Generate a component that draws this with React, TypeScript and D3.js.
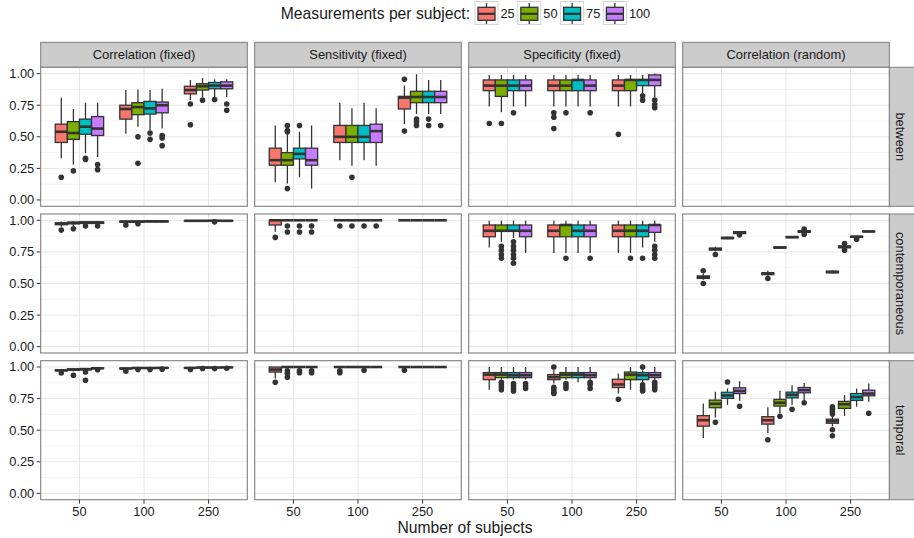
import React from "react";
import { scaleLinear, scalePoint, scaleBand, format } from "d3";

// box rows: [lower whisker, q1, median, q3, upper whisker, outliers]
type Box = [number, number, number, number, number, number[]];

const subjects = ["50", "100", "250"];
const measurements = ["25", "50", "75", "100"];
const colors = ["#F8766D", "#7CAE00", "#00BFC4", "#C77CFF"];
const metrics = ["Correlation (fixed)", "Sensitivity (fixed)", "Specificity (fixed)", "Correlation (random)"];
const relations = ["between", "contemporaneous", "temporal"];
const yTicks = [0, 0.25, 0.5, 0.75, 1];
const yMinor = [0.125, 0.375, 0.625, 0.875];

// ordered: subjects 50 (25,50,75,100), 100 (...), 250 (...)
const corFixedBetween: Box[] = [
  [0.33, 0.455, 0.54, 0.6, 0.81, [0.18]],
  [0.28, 0.48, 0.53, 0.62, 0.72, [0.23]],
  [0.37, 0.52, 0.58, 0.64, 0.77, [0.33, 0.32]],
  [0.34, 0.51, 0.565, 0.66, 0.77, [0.28, 0.24]],
  [0.525, 0.64, 0.72, 0.75, 0.87, []],
  [0.58, 0.675, 0.735, 0.77, 0.875, [0.5, 0.29]],
  [0.55, 0.68, 0.725, 0.78, 0.87, [0.53, 0.48]],
  [0.565, 0.69, 0.75, 0.775, 0.88, [0.51, 0.49, 0.43]],
  [0.79, 0.84, 0.87, 0.9, 0.95, [0.76, 0.595]],
  [0.815, 0.87, 0.9, 0.92, 0.965, [0.79]],
  [0.815, 0.88, 0.905, 0.93, 0.955, [0.795]],
  [0.815, 0.88, 0.905, 0.935, 0.955, [0.76, 0.71]],
];

const sensFixedBetween: Box[] = [
  [0.14, 0.275, 0.315, 0.41, 0.59, []],
  [0.13, 0.275, 0.315, 0.375, 0.53, [0.59, 0.55, 0.54, 0.09]],
  [0.18, 0.325, 0.365, 0.41, 0.54, [0.59]],
  [0.09, 0.275, 0.315, 0.41, 0.59, []],
  [0.315, 0.455, 0.5, 0.59, 0.77, []],
  [0.27, 0.455, 0.5, 0.59, 0.725, [0.18]],
  [0.315, 0.455, 0.5, 0.59, 0.77, []],
  [0.27, 0.455, 0.545, 0.6, 0.725, []],
  [0.6, 0.72, 0.81, 0.82, 0.905, [0.955, 0.545]],
  [0.68, 0.77, 0.815, 0.86, 0.995, [0.64, 0.62, 0.59]],
  [0.68, 0.77, 0.815, 0.86, 0.95, [0.64, 0.59]],
  [0.68, 0.77, 0.815, 0.86, 0.95, [0.59]],
];

const specFixedBetween: Box[] = [
  [0.74, 0.865, 0.905, 0.95, 0.99, [0.605]],
  [0.695, 0.82, 0.905, 0.95, 0.99, [0.605]],
  [0.74, 0.865, 0.905, 0.95, 0.99, [0.69]],
  [0.74, 0.865, 0.905, 0.95, 0.99, []],
  [0.74, 0.865, 0.905, 0.95, 0.99, [0.69, 0.655, 0.565]],
  [0.74, 0.865, 0.905, 0.95, 0.99, [0.69]],
  [0.74, 0.865, 0.95, 0.95, 0.99, []],
  [0.74, 0.865, 0.905, 0.95, 0.99, [0.69]],
  [0.74, 0.865, 0.905, 0.95, 0.99, [0.52]],
  [0.74, 0.865, 0.95, 0.95, 0.99, []],
  [0.845, 0.905, 0.95, 0.95, 0.99, [0.825, 0.79]],
  [0.815, 0.905, 0.95, 0.99, 1.0, [0.79, 0.755, 0.73]],
];

const corFixedContemp: Box[] = [
  [0.95, 0.965, 0.973, 0.98, 0.99, [0.923]],
  [0.955, 0.972, 0.98, 0.985, 0.995, [0.933]],
  [0.965, 0.975, 0.982, 0.988, 0.995, [0.955]],
  [0.965, 0.975, 0.982, 0.988, 0.995, [0.955]],
  [0.975, 0.985, 0.99, 0.993, 0.998, [0.963]],
  [0.98, 0.987, 0.99, 0.994, 0.998, [0.973]],
  [0.982, 0.988, 0.992, 0.995, 0.999, []],
  [0.982, 0.988, 0.992, 0.995, 0.999, []],
  [0.99, 0.994, 0.996, 0.998, 1.0, []],
  [0.99, 0.994, 0.996, 0.998, 1.0, []],
  [0.992, 0.995, 0.997, 0.998, 1.0, [0.988]],
  [0.99, 0.994, 0.996, 0.998, 1.0, []],
];

const sensFixedContemp: Box[] = [
  [0.91, 0.963, 1, 1, 1, [0.865]],
  [1, 1, 1, 1, 1, [0.955, 0.907]],
  [1, 1, 1, 1, 1, [0.955, 0.907]],
  [1, 1, 1, 1, 1, [0.955, 0.907]],
  [1, 1, 1, 1, 1, [0.955]],
  [1, 1, 1, 1, 1, [0.955]],
  [1, 1, 1, 1, 1, [0.955]],
  [1, 1, 1, 1, 1, [0.955]],
  [1, 1, 1, 1, 1, []],
  [1, 1, 1, 1, 1, []],
  [1, 1, 1, 1, 1, []],
  [1, 1, 1, 1, 1, []],
];

const specFixedContemp: Box[] = [
  [0.785, 0.87, 0.917, 0.963, 0.997, []],
  [0.83, 0.917, 0.917, 0.963, 0.997, [0.795, 0.764, 0.73, 0.7]],
  [0.86, 0.917, 0.917, 0.963, 0.997, [0.83, 0.795, 0.764, 0.73, 0.7, 0.66]],
  [0.742, 0.87, 0.917, 0.963, 0.997, []],
  [0.742, 0.87, 0.917, 0.963, 0.997, []],
  [0.742, 0.87, 0.963, 0.963, 0.997, [0.7]],
  [0.742, 0.87, 0.917, 0.963, 0.997, []],
  [0.742, 0.87, 0.917, 0.963, 0.997, [0.7]],
  [0.742, 0.87, 0.917, 0.963, 0.997, []],
  [0.742, 0.87, 0.917, 0.963, 0.997, [0.7]],
  [0.785, 0.87, 0.917, 0.963, 0.997, [0.7]],
  [0.83, 0.905, 0.963, 0.963, 0.997, [0.795, 0.764, 0.73, 0.7]],
];

const corRandomContemp: Box[] = [
  [0.53, 0.54, 0.55, 0.56, 0.575, [0.6, 0.5]],
  [0.755, 0.765, 0.772, 0.78, 0.79, [0.73]],
  [0.85, 0.855, 0.86, 0.865, 0.87, []],
  [0.89, 0.895, 0.903, 0.91, 0.915, [0.885]],
  [0.56, 0.57, 0.578, 0.585, 0.6, [0.54]],
  [0.775, 0.78, 0.785, 0.79, 0.795, []],
  [0.86, 0.863, 0.867, 0.871, 0.875, []],
  [0.9, 0.905, 0.912, 0.918, 0.925, [0.93, 0.89]],
  [0.58, 0.585, 0.591, 0.597, 0.605, []],
  [0.775, 0.783, 0.79, 0.797, 0.805, [0.817, 0.764]],
  [0.862, 0.866, 0.87, 0.874, 0.878, [0.85]],
  [0.905, 0.909, 0.912, 0.915, 0.918, []],
];

const corFixedTemp: Box[] = [
  [0.96, 0.97, 0.974, 0.978, 0.985, [0.953]],
  [0.965, 0.975, 0.98, 0.985, 0.99, [0.935]],
  [0.97, 0.978, 0.983, 0.987, 0.993, [0.96, 0.895]],
  [0.985, 0.988, 0.99, 0.993, 0.997, [0.978]],
  [0.98, 0.985, 0.988, 0.991, 0.995, [0.967]],
  [0.985, 0.99, 0.992, 0.994, 0.997, [0.98]],
  [0.985, 0.99, 0.992, 0.994, 0.997, [0.98]],
  [0.988, 0.991, 0.993, 0.995, 0.998, [0.983]],
  [0.988, 0.991, 0.993, 0.995, 0.998, [0.98]],
  [0.992, 0.994, 0.996, 0.997, 0.999, [0.988]],
  [0.992, 0.994, 0.996, 0.997, 0.999, [0.988]],
  [0.994, 0.996, 0.997, 0.998, 1.0, [0.99]],
];

const sensFixedTemp: Box[] = [
  [0.91, 0.96, 0.98, 1, 1, [0.88]],
  [0.98, 1, 1, 1, 1, [0.97, 0.95, 0.92]],
  [0.985, 1, 1, 1, 1, [0.97, 0.955]],
  [0.985, 1, 1, 1, 1, [0.97, 0.955]],
  [0.985, 1, 1, 1, 1, [0.97, 0.955]],
  [1, 1, 1, 1, 1, []],
  [1, 1, 1, 1, 1, [0.975]],
  [1, 1, 1, 1, 1, []],
  [1, 1, 1, 1, 1, [0.974]],
  [1, 1, 1, 1, 1, []],
  [1, 1, 1, 1, 1, []],
  [1, 1, 1, 1, 1, []],
];

const specFixedTemp: Box[] = [
  [0.82, 0.9, 0.94, 0.956, 1.0, []],
  [0.9, 0.916, 0.94, 0.956, 1.0, [0.88, 0.86, 0.84, 0.82]],
  [0.9, 0.916, 0.935, 0.956, 1.0, [0.87, 0.85, 0.83, 0.81]],
  [0.9, 0.916, 0.935, 0.956, 1.0, [0.87, 0.85, 0.83]],
  [0.87, 0.9, 0.92, 0.94, 0.974, [1.0, 0.84, 0.82, 0.8, 0.79]],
  [0.9, 0.916, 0.94, 0.956, 1.0, [0.87, 0.85, 0.83]],
  [0.88, 0.916, 0.94, 0.956, 1.0, []],
  [0.9, 0.916, 0.935, 0.956, 1.0, [0.88, 0.86, 0.83]],
  [0.79, 0.838, 0.862, 0.903, 0.948, [0.744]],
  [0.82, 0.9, 0.94, 0.96, 1.0, []],
  [0.88, 0.9, 0.935, 0.956, 0.974, [1.0, 0.86, 0.84, 0.82, 0.81]],
  [0.9, 0.916, 0.935, 0.956, 1.0, [0.88, 0.86, 0.84, 0.82]],
];

const corRandomTemp: Box[] = [
  [0.438, 0.532, 0.579, 0.615, 0.712, []],
  [0.6, 0.678, 0.709, 0.738, 0.804, [0.563]],
  [0.7, 0.752, 0.775, 0.8, 0.83, [0.882]],
  [0.733, 0.79, 0.81, 0.835, 0.888, [0.689]],
  [0.477, 0.548, 0.579, 0.607, 0.681, [0.424]],
  [0.634, 0.691, 0.717, 0.744, 0.812, [0.61]],
  [0.7, 0.756, 0.78, 0.801, 0.856, [0.665]],
  [0.738, 0.796, 0.817, 0.838, 0.874, [0.717]],
  [0.529, 0.555, 0.571, 0.587, 0.62, [0.686, 0.665, 0.646, 0.628, 0.503, 0.456]],
  [0.613, 0.673, 0.705, 0.728, 0.778, []],
  [0.686, 0.736, 0.762, 0.79, 0.83, []],
  [0.725, 0.772, 0.79, 0.817, 0.87, [0.634]],
];

const panels: Box[][][] = [
  [corFixedBetween, sensFixedBetween, specFixedBetween, []],
  [corFixedContemp, sensFixedContemp, specFixedContemp, corRandomContemp],
  [corFixedTemp, sensFixedTemp, specFixedTemp, corRandomTemp],
];

const W = 914;
const H = 538;
const left = 40.7;
const panelW = 206.6;
const colGap = 7.4;
const top = 67.3;
const panelH = 139;
const rowGap = 7.7;
const stripH = 25;
const font = "'Liberation Sans', Arial, Helvetica, sans-serif";
const ink = "#333333";

export default function App() {
  const x = scalePoint<string>().domain(subjects).range([0, panelW]).padding(0.6);
  const step = x.step();
  const xInner = scaleBand<string>().domain(measurements).range([-0.375 * step, 0.375 * step]);
  const bw = xInner.bandwidth();
  const y = scaleLinear().domain([-0.05, 1.05]).range([panelH, 0]);
  const fmt = format(".2f");
  const colX = (c: number) => left + c * (panelW + colGap);
  const rowY = (r: number) => top + r * (panelH + rowGap);
  const bottom = rowY(2) + panelH;

  return (
    <svg width={W} height={H} style={{ position: "absolute", left: 0, top: 0, background: "#fff" }} fontFamily={font}>
      <rect width={W} height={H} fill="#fff" />
      {/* legend */}
      <text x={470} y={19} fontSize={15.7} textAnchor="end" fill="#1a1a1a">Measurements per subject:</text>
      {measurements.map((m, i) => {
        const kx = 475 + i * 42.8;
        return (
          <g key={m}>
            <rect x={kx} y={1.5} width={23} height={23} fill="#fff" stroke="#d4d4d4" strokeWidth={1} />
            <line x1={kx + 11.5} x2={kx + 11.5} y1={3} y2={24} stroke={ink} strokeWidth={1.3} />
            <rect x={kx + 3} y={7.3} width={17} height={13} fill={colors[i]} stroke={ink} strokeWidth={1.3} />
            <line x1={kx + 3} x2={kx + 20} y1={13.8} y2={13.8} stroke={ink} strokeWidth={2.2} />
            <text x={kx + 25.5} y={18.3} fontSize={12.8} fill="#1a1a1a">{m}</text>
          </g>
        );
      })}

      {/* column strips */}
      {metrics.map((m, c) => (
        <g key={m}>
          <rect x={colX(c)} y={top - stripH} width={panelW} height={stripH} fill="#cccccc" stroke="#7f7f7f" strokeWidth={1} />
          <text x={colX(c) + panelW / 2} y={top - stripH / 2} dy="0.35em" fontSize={12.9} textAnchor="middle" fill="#1a1a1a">{m}</text>
        </g>
      ))}

      {relations.map((rel, r) => {
        const py = rowY(r);
        return (
          <g key={rel}>
            {/* row strip */}
            <rect x={colX(3) + panelW} y={py} width={W - (colX(3) + panelW) + 1} height={panelH} fill="#cccccc" stroke="#7f7f7f" strokeWidth={1} />
            <text transform={`translate(${colX(3) + panelW + 11.5},${py + panelH / 2}) rotate(90)`} dy="0.35em" fontSize={12.9} textAnchor="middle" fill="#1a1a1a">{rel}</text>
            {/* y axis */}
            {yTicks.map((t) => (
              <g key={t}>
                <line x1={left - 4} x2={left} y1={py + y(t)} y2={py + y(t)} stroke={ink} strokeWidth={1} />
                <text x={left - 6.5} y={py + y(t)} dy="0.35em" fontSize={12.8} textAnchor="end" fill="#1a1a1a">{fmt(t)}</text>
              </g>
            ))}
            {metrics.map((m, c) => {
              const px = colX(c);
              const boxes = panels[r][c];
              return (
                <g key={m} transform={`translate(${px},${py})`}>
                  <rect width={panelW} height={panelH} fill="#fff" />
                  {yMinor.map((t) => (
                    <line key={t} x1={0} x2={panelW} y1={y(t)} y2={y(t)} stroke="#f4f4f4" strokeWidth={1} />
                  ))}
                  {yTicks.map((t) => (
                    <line key={t} x1={0} x2={panelW} y1={y(t)} y2={y(t)} stroke="#e6e6e6" strokeWidth={1} />
                  ))}
                  {subjects.map((s) => (
                    <line key={s} x1={x(s)} x2={x(s)} y1={0} y2={panelH} stroke="#e6e6e6" strokeWidth={1} />
                  ))}
                  {boxes.map((b, k) => {
                    const s = subjects[Math.floor(k / 4)];
                    const mi = k % 4;
                    const bx = (x(s) as number) + (xInner(measurements[mi]) as number);
                    const cx = bx + bw / 2;
                    const [lo, q1, med, q3, hi, outs] = b;
                    return (
                      <g key={k}>
                        <line x1={cx} x2={cx} y1={y(hi)} y2={y(q3)} stroke={ink} strokeWidth={1.3} />
                        <line x1={cx} x2={cx} y1={y(q1)} y2={y(lo)} stroke={ink} strokeWidth={1.3} />
                        <rect x={bx} y={y(q3)} width={bw} height={Math.max(0, y(q1) - y(q3))} fill={colors[mi]} stroke={ink} strokeWidth={1.3} />
                        <line x1={bx} x2={bx + bw} y1={y(med)} y2={y(med)} stroke={ink} strokeWidth={2.6} />
                        {outs.map((o, j) => (
                          <circle key={j} cx={cx} cy={y(o)} r={2.8} fill={ink} />
                        ))}
                      </g>
                    );
                  })}
                  <rect width={panelW} height={panelH} fill="none" stroke="#7f7f7f" strokeWidth={1.1} />
                </g>
              );
            })}
          </g>
        );
      })}

      {/* x axis */}
      {metrics.map((m, c) => (
        <g key={m} transform={`translate(${colX(c)},${bottom})`}>
          {subjects.map((s) => (
            <g key={s}>
              <line x1={x(s)} x2={x(s)} y1={0} y2={4} stroke={ink} strokeWidth={1} />
              <text x={x(s)} y={16.8} fontSize={12.8} textAnchor="middle" fill="#1a1a1a">{s}</text>
            </g>
          ))}
        </g>
      ))}
      <text x={left + (colX(3) + panelW - left) / 2} y={533} fontSize={15.7} textAnchor="middle" fill="#1a1a1a">Number of subjects</text>
    </svg>
  );
}
